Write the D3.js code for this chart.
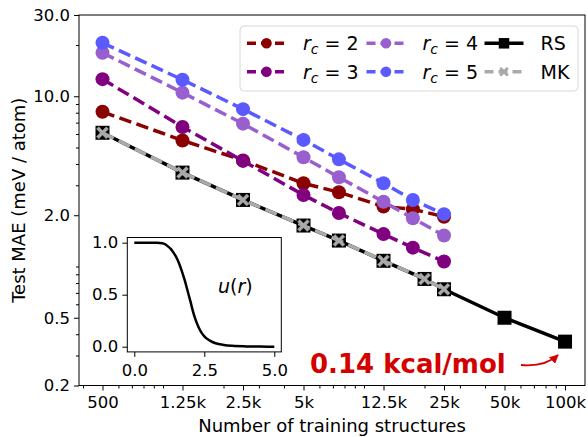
<!DOCTYPE html>
<html><head><meta charset="utf-8">
<script src="https://cdn.jsdelivr.net/npm/d3@7"></script>
<style>body{margin:0;background:#fff}svg{display:block}text{font-family:"DejaVu Sans",sans-serif}</style>
</head><body><svg id="c" width="588" height="437"></svg>
<script>
// ---- data ----
const rcSizes = [500, 1250, 2500, 5000, 7500, 12500, 17500, 25000];
const rsSizes = [500, 1250, 2500, 5000, 7500, 12500, 20000, 25000, 50000, 100000];
const mkSizes = [500, 1250, 2500, 5000, 7500, 12500, 20000, 25000];
const rc2 = [8.1, 5.5, 4.2, 3.08, 2.73, 2.25, 2.17, 1.96];
const rc3 = [12.6, 6.6, 4.17, 2.63, 2.06, 1.55, 1.29, 1.07];
const rc4 = [18.0, 10.5, 6.9, 4.38, 3.34, 2.40, 1.92, 1.52];
const rc5 = [20.6, 12.5, 8.4, 5.54, 4.26, 3.08, 2.46, 2.03];
const rsMAE = [6.1, 3.56, 2.46, 1.74, 1.42, 1.08, 0.845, 0.735, 0.5, 0.362];
const mkMAE = [6.1, 3.56, 2.46, 1.74, 1.42, 1.08, 0.845, 0.735];
const xTickVals = [500, 1250, 2500, 5000, 12500, 25000, 50000, 100000];
const xTickLabels = ["500", "1.25k", "2.5k", "5k", "12.5k", "25k", "50k", "100k"];
const yTickVals = [0.2, 0.5, 2, 10, 30];
const yTickLabels = ["0.2", "0.5", "2.0", "10.0", "30.0"];
const uR   = [0, 0.5, 0.8, 1.0, 1.1, 1.2, 1.3, 1.4, 1.5, 1.6, 1.7, 1.8, 1.9, 2.0, 2.1, 2.2, 2.3, 2.4, 2.5, 2.7, 2.9, 3.2, 3.5, 4.0, 4.5, 5.0];
const uVal = [1, 1, 0.999, 0.995, 0.985, 0.965, 0.94, 0.905, 0.86, 0.8, 0.725, 0.64, 0.54, 0.44, 0.335, 0.25, 0.185, 0.135, 0.1, 0.058, 0.033, 0.016, 0.008, 0.003, 0.001, 0];
const insetXTicks = [0, 2.5, 5];
const insetXLabels = ["0.0", "2.5", "5.0"];
const insetYTicks = [0, 0.5, 1];
const insetYLabels = ["0.0", "0.5", "1.0"];
const legendLabels = ["2", "3", "4", "5", "RS", "MK"];
const annotationText = "0.14 kcal/mol";

// ---- layout ----
const svg = d3.select("#c");
const L = 79, R = 585, T = 15, B = 385.5;
const x = d3.scaleLog().domain([382, 125700]).range([L, R]);
const y = d3.scaleLog().domain([0.2, 30]).range([B, T]);
const FS = 16.5;

const series = [
  {xs: rcSizes, ys: rc2, color: "#8b0000", dash: "12.5,5.5", marker: "circle"},
  {xs: rcSizes, ys: rc3, color: "#800080", dash: "12.5,5.5", marker: "circle"},
  {xs: rcSizes, ys: rc4, color: "#9a5fcf", dash: "12.5,5.5", marker: "circle"},
  {xs: rcSizes, ys: rc5, color: "#5a5aff", dash: "12.5,5.5", marker: "circle"},
  {xs: rsSizes, ys: rsMAE, color: "#000000", dash: null, marker: "square"},
  {xs: mkSizes, ys: mkMAE, color: "#aaaaaa", dash: "12.5,5.5", marker: "X"}
];

function xPath(s) {
  const w = s * 0.38;
  return `M${-s + w},${-s} L0,${-w} L${s - w},${-s} L${s},${-s + w} L${w},0 L${s},${s - w} L${s - w},${s} L0,${w} L${-s + w},${s} L${-s},${s - w} L${-w},0 L${-s},${-s + w} Z`;
}
function drawMarker(g, type, cx, cy, color, scale) {
  if (type === "circle") {
    g.append("circle").attr("cx", cx).attr("cy", cy).attr("r", 7 * scale).attr("fill", color);
  } else if (type === "square") {
    const s = 7 * scale;
    g.append("rect").attr("x", cx - s).attr("y", cy - s).attr("width", 2 * s).attr("height", 2 * s).attr("fill", color);
  } else {
    g.append("path").attr("d", xPath(6 * scale)).attr("transform", `translate(${cx},${cy})`)
      .attr("fill", color).attr("stroke", "#999").attr("stroke-width", 0.5);
  }
}

// ---- axes ----
const xMinor = x.ticks().filter(v => !xTickVals.includes(v));
const yMinor = y.ticks().filter(v => !yTickVals.some(t => Math.abs(t - v) < 1e-9));

svg.append("g").attr("transform", `translate(0,${B})`)
  .call(d3.axisBottom(x).tickValues(xTickVals).tickFormat((d, i) => xTickLabels[i]).tickSize(5).tickPadding(6));
svg.append("g").attr("transform", `translate(0,${B})`)
  .call(d3.axisBottom(x).tickValues(xMinor).tickFormat("").tickSize(3));
svg.append("g").attr("transform", `translate(${L},0)`)
  .call(d3.axisLeft(y).tickValues(yTickVals).tickFormat((d, i) => yTickLabels[i]).tickSize(5).tickPadding(4));
svg.append("g").attr("transform", `translate(${L},0)`)
  .call(d3.axisLeft(y).tickValues(yMinor).tickFormat("").tickSize(3));
svg.selectAll(".domain").remove();
svg.selectAll(".tick line").attr("stroke", "#000").attr("stroke-width", 1);
svg.selectAll(".tick text").attr("font-size", FS).attr("fill", "#000").attr("font-family", "DejaVu Sans");

// ---- data lines ----
const plot = svg.append("g");
series.forEach(s => {
  const pts = s.xs.map((v, i) => [x(v), y(s.ys[i])]);
  plot.append("path").attr("d", d3.line()(pts)).attr("fill", "none")
    .attr("stroke", s.color).attr("stroke-width", 3.5)
    .attr("stroke-dasharray", s.dash);
  pts.forEach(p => drawMarker(plot, s.marker, p[0], p[1], s.color, 1));
});

// frame
svg.append("rect").attr("x", L).attr("y", T).attr("width", R - L).attr("height", B - T)
  .attr("fill", "none").attr("stroke", "#000").attr("stroke-width", 1);

// ---- axis labels ----
svg.append("text").attr("x", (L + R) / 2).attr("y", 432).attr("text-anchor", "middle")
  .attr("font-size", 18).text("Number of training structures");
svg.append("text").attr("transform", `translate(25,${(T + B) / 2}) rotate(-90)`).attr("text-anchor", "middle")
  .attr("font-size", 18).text("Test MAE (meV / atom)");

// ---- legend ----
const lg = svg.append("g");
lg.append("rect").attr("x", 240).attr("y", 26).attr("width", 338).attr("height", 65).attr("rx", 4)
  .attr("fill", "#fff").attr("fill-opacity", 0.8).attr("stroke", "#d8d8d8");
const colX = [247, 366.5, 484.5], rowY = [43.3, 71.7];
series.forEach((s, i) => {
  const c = Math.floor(i / 2), r = i % 2;
  const x0 = colX[c], yy = rowY[r];
  lg.append("line").attr("x1", x0).attr("x2", x0 + 39).attr("y1", yy).attr("y2", yy)
    .attr("stroke", s.color).attr("stroke-width", 3.5).attr("stroke-dasharray", s.dash ? "9,5" : null);
  drawMarker(lg, s.marker, x0 + 19.5, yy, s.color, 0.75);
  const t = lg.append("text").attr("x", x0 + 56).attr("y", yy + 7).attr("font-size", 19);
  if (i < 4) {
    t.append("tspan").attr("font-style", "italic").text("r");
    t.append("tspan").attr("font-style", "italic").attr("font-size", 14).attr("dy", 4).text("c");
    t.append("tspan").attr("dy", -4).text(" = " + legendLabels[i]);
  } else {
    t.text(legendLabels[i]);
  }
});

// ---- inset ----
const iL = 127.3, iR = 281.3, iT = 237.5, iB = 351.9;
const ix = d3.scaleLinear().domain([-0.25, 5.25]).range([iL, iR]);
const iy = d3.scaleLinear().domain([-0.05, 1.05]).range([iB, iT]);
const inset = svg.append("g");
inset.append("rect").attr("x", iL).attr("y", iT).attr("width", iR - iL).attr("height", iB - iT).attr("fill", "#fff");
inset.append("g").attr("transform", `translate(0,${iB})`)
  .call(d3.axisBottom(ix).tickValues(insetXTicks).tickFormat((d, i) => insetXLabels[i]).tickSize(5).tickPadding(7));
inset.append("g").attr("transform", `translate(${iL},0)`)
  .call(d3.axisLeft(iy).tickValues(insetYTicks).tickFormat((d, i) => insetYLabels[i]).tickSize(5).tickPadding(4));
inset.selectAll(".domain").remove();
inset.selectAll(".tick line").attr("stroke", "#000");
inset.selectAll(".tick text").attr("font-size", FS).attr("fill", "#000").attr("font-family", "DejaVu Sans");
inset.append("path").attr("d", d3.line().x((d, i) => ix(uR[i])).y(d => iy(d)).curve(d3.curveMonotoneX)(uVal))
  .attr("fill", "none").attr("stroke", "#000").attr("stroke-width", 2.5);
inset.append("rect").attr("x", iL).attr("y", iT).attr("width", iR - iL).attr("height", iB - iT)
  .attr("fill", "none").attr("stroke", "#000");
const ut = inset.append("text").attr("x", 218).attr("y", 293).attr("font-size", 19);
ut.append("tspan").attr("font-style", "italic").text("u");
ut.append("tspan").text("(");
ut.append("tspan").attr("font-style", "italic").text("r");
ut.append("tspan").text(")");

// ---- annotation ----
const red = "#d40000";
svg.append("text").attr("x", 310).attr("y", 373).attr("font-size", 26).attr("font-weight", "bold")
  .attr("fill", red).text(annotationText);
const defs = svg.append("defs");
defs.append("marker").attr("id", "ah").attr("viewBox", "0 0 10 10").attr("refX", 9).attr("refY", 5)
  .attr("markerWidth", 5).attr("markerHeight", 5).attr("orient", "auto")
  .append("path").attr("d", "M0,0 L10,5 L0,10 Z").attr("fill", red);
const ap = d3.path();
ap.moveTo(521, 365);
ap.quadraticCurveTo(545, 367, 558, 355);
svg.append("path").attr("d", ap.toString()).attr("fill", "none").attr("stroke", red)
  .attr("stroke-width", 1.8).attr("marker-end", "url(#ah)");
</script></body></html>
